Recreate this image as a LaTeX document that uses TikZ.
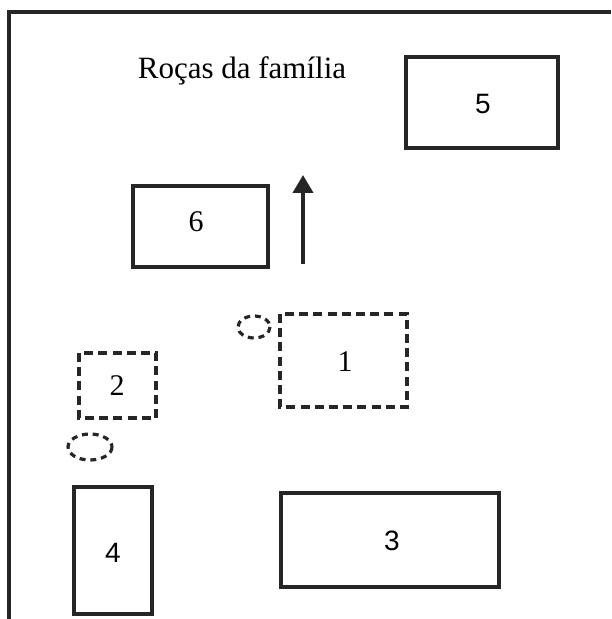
\documentclass[tikz,border=0pt]{standalone}
\usepackage{fontspec}
\setmainfont{Liberation Serif}
\newfontfamily\plotsans{Liberation Sans}
\usetikzlibrary{arrows.meta}

\begin{document}
\begin{tikzpicture}[x=0.5pt, y=-0.5pt, line join=miter,
    field/.style={draw=black!85, line width=1.6pt},
    plannedfield/.style={draw=black!85, line width=1.6pt, dash pattern=on 4.5pt off 2.6pt},
    spring/.style={draw=black!85, line width=1.6pt, dash pattern=on 3pt off 2.4pt},
    plotnum/.style={font=\fontsize{15}{18}\selectfont, inner sep=0pt}]
    \useasboundingbox (0,0) rectangle (611,619);

    % frame (left and top only)
    \draw[black!85, line width=1.6pt] (9,619) -- (9,12) -- (611,12);

    \node[font=\fontsize{15.5}{18}\selectfont, inner sep=0pt] (title) at (242,71) {Roças da família};

    % family plots
    \draw[field] (406,57) rectangle (558,148);
    \node[plotnum, font=\plotsans\fontsize{14}{18}\selectfont] (p5) at (483,104) {5};

    \draw[field] (133,186) rectangle (268,267);
    \node[plotnum] (p6) at (196,222) {6};

    \draw[field] (281,493) rectangle (499,587);
    \node[plotnum, font=\plotsans\fontsize{14}{18}\selectfont] (p3) at (392,541) {3};

    \draw[field] (74,487) rectangle (152,614);
    \node[plotnum, font=\plotsans\fontsize{14}{18}\selectfont] (p4) at (113,553) {4};

    % planned plots
    \draw[plannedfield] (280,314) rectangle (407,407);
    \node[plotnum] (p1) at (345,362) {1};

    \draw[plannedfield] (79,353) rectangle (156,418);
    \node[plotnum] (p2) at (117,386) {2};

    \draw[spring] (254,327) ellipse (16 and 11);
    \draw[spring] (90,447) ellipse (22 and 13);

    % direction
    \draw[black!85, line width=2pt, -{Triangle[width=10pt, length=9pt]}] (303,264) -- (303,175);
\end{tikzpicture}
\end{document}
